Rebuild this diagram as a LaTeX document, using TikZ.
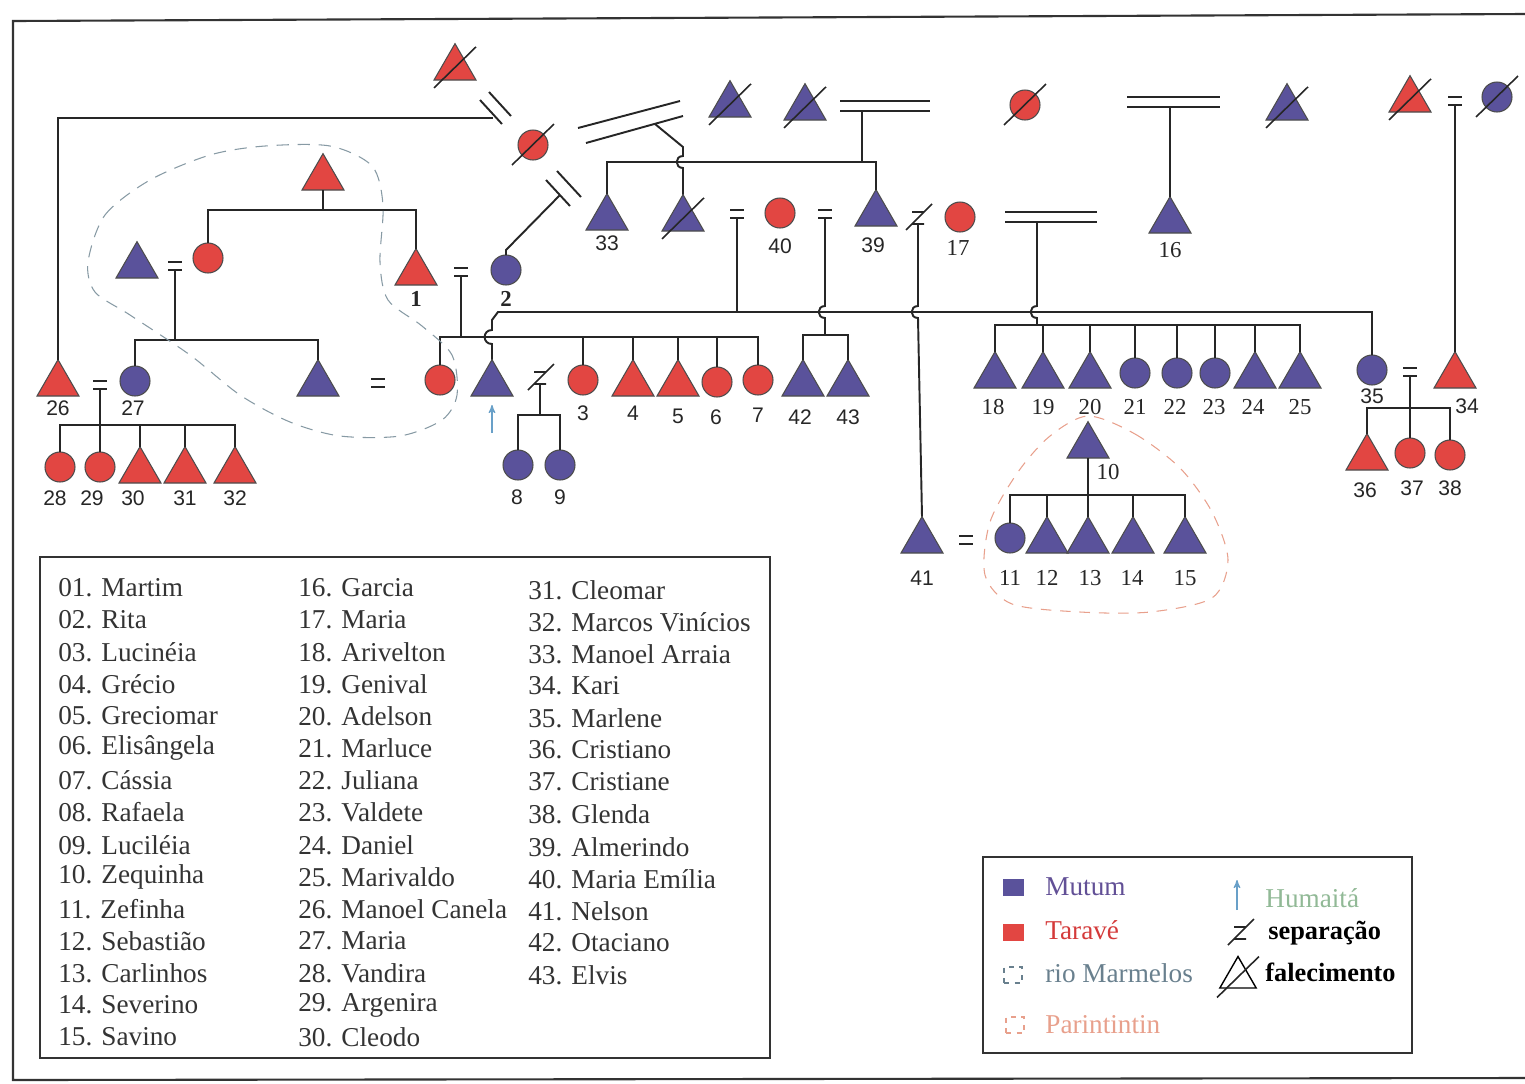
\documentclass[tikz,border=0pt]{standalone}
\usepackage{fontspec}
\setmainfont{Liberation Serif}
\setsansfont{Liberation Sans}
\usetikzlibrary{arrows,shapes.geometric}

\definecolor{mutumblue}{RGB}{90,82,155}
\definecolor{taravered}{RGB}{226,70,66}
\definecolor{mutumtext}{RGB}{98,80,150}
\definecolor{taravetext}{RGB}{212,58,58}
\definecolor{riogrey}{RGB}{105,128,142}
\definecolor{parinpink}{RGB}{232,160,140}
\definecolor{humaitablue}{RGB}{105,160,200}
\definecolor{humaitagreen}{RGB}{145,185,150}

% slash over a deceased person
\newcommand{\dead}[1]{\draw[line width=0.9pt, black!85] ([shift={(-0.42cm,-0.4cm)}]#1.center) -- ([shift={(0.42cm,0.42cm)}]#1.center);}
% marriage sign, lower bar at #1
\newcommand{\wed}[1]{\draw[kin] (#1) +(-7,-8) -- +(7,-8) +(-7,0) -- +(7,0);}
% separation sign
\newcommand{\sepmark}[1]{\draw[line width=0.9pt, black!85] (#1) +(-6,-6) -- +(6,-6) +(-12,12) -- +(14,-14) +(-6,6) -- +(6,6);}

\begin{document}
\begin{tikzpicture}[x=0.02cm, y=-0.02cm,
        kin/.style={line width=1.1pt, black!85},
        tri/.style={regular polygon, regular polygon sides=3, minimum size=0.97cm, inner sep=0pt, outer sep=0pt, anchor=south, draw=black!70, line width=0.6pt},
        fem/.style={circle, minimum size=0.6cm, inner sep=0pt, outer sep=0pt, anchor=south, draw=black!70, line width=0.6pt},
        mutum/.style={fill=mutumblue},
        tarave/.style={fill=taravered},
        lbls/.style={inner sep=0pt, font=\sffamily\fontsize{12}{14}\selectfont, text=black!85},
        lblr/.style={inner sep=0pt, font=\fontsize{13}{15}\selectfont, text=black!85},
        namelist/.style={anchor=west, inner sep=0pt, font=\fontsize{15.5}{18}\selectfont, text=black!80},
        keytext/.style={anchor=west, inner sep=0pt, font=\fontsize{15.5}{18}\selectfont},
        riomarm/.style={riogrey!80, line width=0.6pt, dash pattern=on 7pt off 5pt},
        parin/.style={parinpink, line width=0.6pt, dash pattern=on 6pt off 5pt}]
          \useasboundingbox (0,0) rectangle (1525,1083);
          %frame
          \draw[line width=1.2pt, black!80] (1525,14) -- (13,21) -- (13,1080) -- (1525,1078);

          %oldest generation
          \node[tri,tarave] (a1) at (455,80) {}; \dead{a1}
          \node[fem,tarave] (a2) at (533,160) {}; \dead{a2}
          \node[tri,mutum] (a3) at (730,117) {}; \dead{a3}
          \node[tri,mutum] (a4) at (805,120) {}; \dead{a4}
          \node[fem,tarave] (a5) at (1025,120) {}; \dead{a5}
          \node[tri,mutum] (a6) at (1287,120) {}; \dead{a6}
          \node[tri,tarave] (a7) at (1410,112) {}; \dead{a7}
          \node[fem,mutum] (a8) at (1497,112) {}; \dead{a8}

          %second row
          \node[tri,mutum] (p33) at (607,230) {};
          \node[tri,mutum] (b1) at (683,231) {}; \dead{b1}
          \node[fem,tarave] (p40) at (780,228) {};
          \node[tri,mutum] (p39) at (876,226) {};
          \node[fem,tarave] (p17) at (960,232) {};
          \node[tri,mutum] (p16) at (1170,233) {};
          \node[tri,tarave] (c1) at (323,190) {};
          \node[tri,mutum] (c2) at (137,278) {};
          \node[fem,tarave] (c3) at (208,273) {};
          \node[tri,tarave] (p1) at (416,285) {};
          \node[fem,mutum] (p2) at (506,285) {};

          %third row
          \node[tri,tarave] (p26) at (58,396) {};
          \node[fem,mutum] (p27) at (135,396) {};
          \node[tri,mutum] (d1) at (318,396) {};
          \node[fem,tarave] (d2) at (440,395) {};
          \node[tri,mutum] (d3) at (492,396) {};
          \node[fem,tarave] (p3) at (583,395) {};
          \node[tri,tarave] (p4) at (633,396) {};
          \node[tri,tarave] (p5) at (678,396) {};
          \node[fem,tarave] (p6) at (717,397) {};
          \node[fem,tarave] (p7) at (758,395) {};
          \node[tri,mutum] (p42) at (803,396) {};
          \node[tri,mutum] (p43) at (848,396) {};
          \node[tri,mutum] (p18) at (995,388) {};
          \node[tri,mutum] (p19) at (1043,388) {};
          \node[tri,mutum] (p20) at (1090,388) {};
          \node[fem,mutum] (p21) at (1135,388) {};
          \node[fem,mutum] (p22) at (1177,388) {};
          \node[fem,mutum] (p23) at (1215,388) {};
          \node[tri,mutum] (p24) at (1255,388) {};
          \node[tri,mutum] (p25) at (1300,388) {};
          \node[fem,mutum] (p35) at (1372,385) {};
          \node[tri,tarave] (p34) at (1455,388) {};

          %fourth row
          \node[fem,tarave] (p28) at (60,482) {};
          \node[fem,tarave] (p29) at (100,482) {};
          \node[tri,tarave] (p30) at (140,483) {};
          \node[tri,tarave] (p31) at (185,483) {};
          \node[tri,tarave] (p32) at (235,483) {};
          \node[fem,mutum] (p8) at (518,480) {};
          \node[fem,mutum] (p9) at (560,480) {};
          \node[tri,mutum] (p10) at (1088,458) {};
          \node[tri,tarave] (p36) at (1367,470) {};
          \node[fem,tarave] (p37) at (1410,468) {};
          \node[fem,tarave] (p38) at (1450,470) {};
          \node[tri,mutum] (p41) at (922,553) {};
          \node[fem,mutum] (p11) at (1010,553) {};
          \node[tri,mutum] (p12) at (1047,553) {};
          \node[tri,mutum] (p13) at (1088,553) {};
          \node[tri,mutum] (p14) at (1133,553) {};
          \node[tri,mutum] (p15) at (1185,553) {};

          %marriage and separation signs
          \coordinate (m737) at (737,218);
          \coordinate (m825) at (825,218);
          \coordinate (m175) at (175,270);
          \coordinate (m461) at (461,276);
          \coordinate (m378) at (378,387);
          \coordinate (m100) at (100,389);
          \coordinate (m1410) at (1410,376);
          \coordinate (m966) at (966,544);
          \coordinate (m1455) at (1455,105);
          \coordinate (sp540) at (540,378);
          \coordinate (sp918) at (918,218);
          \wed{m737} \wed{m825} \wed{m175} \wed{m461} \wed{m378}
          \wed{m100} \wed{m1410} \wed{m966} \wed{m1455}
          \sepmark{sp540} \sepmark{sp918}

          %sibling lines
          \coordinate (s39) at (862,162);
          \coordinate (s3) at (323,210);
          \coordinate (s27) at (175,340);
          \coordinate (s7) at (461,337);
          \coordinate (s42) at (825,335);
          \coordinate (s18) at (1037,325);
          \coordinate (s28) at (100,425);
          \coordinate (s8) at (540,415);
          \coordinate (s36) at (1410,408);
          \coordinate (s11) at (1088,495);
          \coordinate (ll) at (737,312);

          %broken unions of the old woman
          \draw[kin] (p26.north) |- (493,118);
          \draw[kin] (480,100) -- (502,124) (489,92) -- (511,116);
          \draw[kin] (546,180) -- (570,206) (557,171) -- (581,197);
          \draw[kin] (560,195) -- (506,250) -- (p2.north);
          \draw[kin] (578,128) -- (680,101) (586,143) -- (683,116);
          \draw[kin] (655,124) -- (683,147) -- (683,156) to[out=180,in=180,looseness=1.8] (683,168) -- (b1.north);

          %families of the top row
          \draw[kin] (840,101) -- (930,101) (840,111) -- (930,111);
          \draw[kin] (862,111) -- (s39);
          \draw[kin] (p33.north) |- (s39) -| (p39.north);
          \draw[kin] (1127,97) -- (1220,97) (1127,107) -- (1220,107);
          \draw[kin] (1170,107) -- (p16.north);
          \draw[kin] (m1455) -- (p34.north);

          %long line and the crossings
          \draw[kin] (m737) -- (ll);
          \draw[kin] (d3.north) -- (492,344) to[out=180,in=180,looseness=1.8] (492,330) -- (492,320) -- (498,312) -| (p35.north);
          \draw[kin] (m825) -- (825,306) to[out=180,in=180,looseness=1.8] (825,318) -- (s42);
          \draw[kin] (p42.north) |- (s42) -| (p43.north);
          \draw[kin] (918,224) -- (918,306) to[out=180,in=180,looseness=1.8] (918,318) -- (p41.north);
          \draw[kin] (1005,212) -- (1097,212) (1005,222) -- (1097,222);
          \draw[kin] (1037,222) -- (1037,306) to[out=180,in=180,looseness=1.8] (1037,318) -- (s18);
          \draw[kin] (p18.north) |- (s18) -| (p25.north);
          \draw[kin] (p19.north) -- (p19.north |- s18) (p20.north) -- (p20.north |- s18)
                     (p21.north) -- (p21.north |- s18) (p22.north) -- (p22.north |- s18)
                     (p23.north) -- (p23.north |- s18) (p24.north) -- (p24.north |- s18);

          %left families
          \draw[kin] (c1.south) -- (s3);
          \draw[kin] (c3.north) |- (s3) -| (p1.north);
          \draw[kin] (m175) -- (s27);
          \draw[kin] (p27.north) |- (s27) -| (d1.north);
          \draw[kin] (m461) -- (s7);
          \draw[kin] (d2.north) |- (s7) -| (p7.north);
          \draw[kin] (p3.north) -- (p3.north |- s7) (p4.north) -- (p4.north |- s7)
                     (p5.north) -- (p5.north |- s7) (p6.north) -- (p6.north |- s7);
          \draw[kin] (m100) -- (s28);
          \draw[kin] (p28.north) |- (s28) -| (p32.north);
          \draw[kin] (p29.north) -- (s28) (p30.north) -- (p30.north |- s28) (p31.north) -- (p31.north |- s28);
          \draw[kin] (540,384) -- (s8);
          \draw[kin] (p8.north) |- (s8) -| (p9.north);

          %right families
          \draw[kin] (m1410) -- (s36);
          \draw[kin] (p36.north) |- (s36) -| (p38.north);
          \draw[kin] (p37.north) -- (s36);
          \draw[kin] (p10.south) -- (s11);
          \draw[kin] (p11.north) |- (s11) -| (p15.north);
          \draw[kin] (p12.north) -- (p12.north |- s11) (p13.north) -- (s11) (p14.north) -- (p14.north |- s11);

          %humaita arrow
          \coordinate (hum) at (492,433);
          \draw[->,>=stealth', humaitablue, line width=0.7pt] (hum) -- ([yshift=-0.18cm]d3.south);

          %groups
          \draw[riomarm] plot[smooth cycle] coordinates {(88,262) (105,215) (150,180) (210,155) (265,146) (330,146) (372,166) (383,205) (380,262) (388,300) (422,326) (452,355) (457,395) (442,420) (400,436) (340,436) (290,422) (240,395) (190,355) (130,315) (95,292)};
          \draw[parin] plot[smooth cycle] coordinates {(1088,416) (1135,434) (1180,468) (1212,512) (1228,560) (1212,598) (1150,612) (1080,612) (1012,604) (985,575) (990,522) (1018,472) (1050,436)};

          %numbers
          \node[lbls] (lb33) at (607,243) {33};
          \node[lbls] (lb40) at (780,246) {40};
          \node[lbls] (lb39) at (873,245) {39};
          \node[lblr] (lb17) at (958,248) {17};
          \node[lblr] (lb16) at (1170,250) {16};
          \node[lblr, font=\bfseries\fontsize{13}{15}\selectfont] (lb1) at (416,299) {1};
          \node[lblr, font=\bfseries\fontsize{13}{15}\selectfont] (lb2) at (506,299) {2};
          \node[lbls] (lb26) at (58,408) {26};
          \node[lbls] (lb27) at (133,408) {27};
          \node[lbls] (lb3) at (583,413) {3};
          \node[lbls] (lb4) at (633,413) {4};
          \node[lbls] (lb5) at (678,416) {5};
          \node[lbls] (lb6) at (716,417) {6};
          \node[lbls] (lb7) at (758,415) {7};
          \node[lbls] (lb42) at (800,417) {42};
          \node[lbls] (lb43) at (848,417) {43};
          \node[lblr] (lb18) at (993,407) {18};
          \node[lblr] (lb19) at (1043,407) {19};
          \node[lblr] (lb20) at (1090,407) {20};
          \node[lblr] (lb21) at (1135,407) {21};
          \node[lblr] (lb22) at (1175,407) {22};
          \node[lblr] (lb23) at (1214,407) {23};
          \node[lblr] (lb24) at (1253,407) {24};
          \node[lblr] (lb25) at (1300,407) {25};
          \node[lbls] (lb35) at (1372,396) {35};
          \node[lbls] (lb34) at (1467,406) {34};
          \node[lbls] (lb28) at (55,498) {28};
          \node[lbls] (lb29) at (92,498) {29};
          \node[lbls] (lb30) at (133,498) {30};
          \node[lbls] (lb31) at (185,498) {31};
          \node[lbls] (lb32) at (235,498) {32};
          \node[lbls] (lb8) at (517,497) {8};
          \node[lbls] (lb9) at (560,497) {9};
          \node[lblr] (lb10) at (1108,472) {10};
          \node[lbls] (lb36) at (1365,490) {36};
          \node[lbls] (lb37) at (1412,488) {37};
          \node[lbls] (lb38) at (1450,488) {38};
          \node[lbls] (lb41) at (922,578) {41};
          \node[lblr] (lb11) at (1010,578) {11};
          \node[lblr] (lb12) at (1047,578) {12};
          \node[lblr] (lb13) at (1090,578) {13};
          \node[lblr] (lb14) at (1132,578) {14};
          \node[lblr] (lb15) at (1185,578) {15};

          %list of names
          \draw[line width=1.2pt, black!80] (40,557) rectangle (770,1058);
          \node[namelist] (n01) at (58,588) {01. Martim};
          \node[namelist] (n02) at (58,620) {02. Rita};
          \node[namelist] (n03) at (58,652) {03. Lucinéia};
          \node[namelist] (n04) at (58,684) {04. Grécio};
          \node[namelist] (n05) at (58,716) {05. Greciomar};
          \node[namelist] (n06) at (58,748) {06. Elisângela};
          \node[namelist] (n07) at (58,780) {07. Cássia};
          \node[namelist] (n08) at (58,812) {08. Rafaela};
          \node[namelist] (n09) at (58,845) {09. Luciléia};
          \node[namelist] (n10) at (58,877) {10. Zequinha};
          \node[namelist] (n11) at (58,909) {11. Zefinha};
          \node[namelist] (n12) at (58,941) {12. Sebastião};
          \node[namelist] (n13) at (58,973) {13. Carlinhos};
          \node[namelist] (n14) at (58,1005) {14. Severino};
          \node[namelist] (n15) at (58,1037) {15. Savino};
          \node[namelist] (n16) at (298,588) {16. Garcia};
          \node[namelist] (n17) at (298,620) {17. Maria};
          \node[namelist] (n18) at (298,652) {18. Arivelton};
          \node[namelist] (n19) at (298,684) {19. Genival};
          \node[namelist] (n20) at (298,716) {20. Adelson};
          \node[namelist] (n21) at (298,748) {21. Marluce};
          \node[namelist] (n22) at (298,780) {22. Juliana};
          \node[namelist] (n23) at (298,812) {23. Valdete};
          \node[namelist] (n24) at (298,845) {24. Daniel};
          \node[namelist] (n25) at (298,877) {25. Marivaldo};
          \node[namelist] (n26) at (298,909) {26. Manoel Canela};
          \node[namelist] (n27) at (298,941) {27. Maria};
          \node[namelist] (n28) at (298,973) {28. Vandira};
          \node[namelist] (n29) at (298,1005) {29. Argenira};
          \node[namelist] (n30) at (298,1037) {30. Cleodo};
          \node[namelist] (n31) at (528,590) {31. Cleomar};
          \node[namelist] (n32) at (528,622) {32. Marcos Vinícios};
          \node[namelist] (n33) at (528,654) {33. Manoel Arraia};
          \node[namelist] (n34) at (528,686) {34. Kari};
          \node[namelist] (n35) at (528,718) {35. Marlene};
          \node[namelist] (n36) at (528,750) {36. Cristiano};
          \node[namelist] (n37) at (528,782) {37. Cristiane};
          \node[namelist] (n38) at (528,814) {38. Glenda};
          \node[namelist] (n39) at (528,847) {39. Almerindo};
          \node[namelist] (n40) at (528,879) {40. Maria Emília};
          \node[namelist] (n41) at (528,911) {41. Nelson};
          \node[namelist] (n42) at (528,943) {42. Otaciano};
          \node[namelist] (n43) at (528,975) {43. Elvis};

          %key
          \draw[line width=1.2pt, black!80] (983,857) rectangle (1412,1053);
          \node[fill=mutumblue, minimum width=0.42cm, minimum height=0.34cm, inner sep=0pt] (kmutum) at (1013,887) {};
          \node[keytext, text=mutumtext] (tmutum) at (1045,887) {Mutum};
          \node[fill=taravered, minimum width=0.42cm, minimum height=0.34cm, inner sep=0pt] (ktarave) at (1013,932) {};
          \node[keytext, text=taravetext] (ttarave) at (1045,930) {Taravé};
          \node[draw=riogrey, dashed, line width=0.7pt, minimum width=0.36cm, minimum height=0.32cm, inner sep=0pt] (krio) at (1013,975) {};
          \node[keytext, text=riogrey] (trio) at (1045,973) {rio Marmelos};
          \node[draw=parinpink, dashed, line width=0.7pt, minimum width=0.36cm, minimum height=0.32cm, inner sep=0pt] (kparin) at (1015,1025) {};
          \node[keytext, text=parinpink] (tparin) at (1045,1025) {Parintintin};
          \coordinate (khum) at (1237,910);
          \draw[->,>=stealth', humaitablue, line width=0.7pt] (khum) -- (1237,880);
          \node[keytext, text=humaitagreen] (thumaita) at (1265,898) {Humaitá};
          \coordinate (ksep) at (1240,933);
          \sepmark{ksep}
          \node[keytext, font=\bfseries\fontsize{15}{18}\selectfont] (tsep) at (1268,933) {separação};
          \node[tri, fill=none, draw=black, line width=0.8pt, minimum size=0.84cm] (kdead) at (1238,988) {}; \dead{kdead}
          \node[keytext, font=\bfseries\fontsize{15}{18}\selectfont] (tdead) at (1265,972) {falecimento};
    \end{tikzpicture}
\end{document}
